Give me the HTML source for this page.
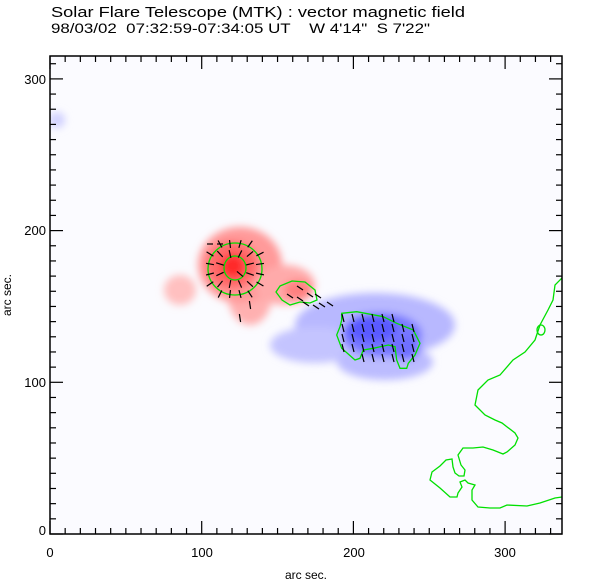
<!DOCTYPE html><html><head><meta charset="utf-8"><style>
body{margin:0;background:#fff;width:612px;height:585px;overflow:hidden}
svg{display:block}
text{font-family:"Liberation Sans",sans-serif;fill:#000}
</style></head><body>
<svg id="s" width="612" height="585" viewBox="0 0 612 585">
<defs>
<filter id="b6" x="-50%" y="-50%" width="200%" height="200%"><feGaussianBlur stdDeviation="4"/></filter>
<clipPath id="c"><rect x="50" y="56" width="512" height="478"/></clipPath>
</defs>
<text x="51" y="17" font-size="14.5" textLength="414" lengthAdjust="spacingAndGlyphs">Solar Flare Telescope (MTK) : vector magnetic field</text>
<text x="51" y="33" font-size="13.5" xml:space="preserve" textLength="379" lengthAdjust="spacingAndGlyphs">98/03/02  07:32:59-07:34:05 UT    W 4'14"  S 7'22"</text>
<g clip-path="url(#c)" id="img">
<rect x="50" y="56" width="512" height="478" fill="#fbfbff"/>
<g filter="url(#b6)">
<ellipse cx="180" cy="290" rx="16" ry="15" fill="#ffc0c0"/>
<ellipse cx="250" cy="295" rx="22" ry="30" fill="#ffb0b0"/>
<ellipse cx="240" cy="265" rx="42" ry="38" fill="#ff9a9a"/>
<ellipse cx="285" cy="285" rx="30" ry="20" fill="#ffaaaa"/>
<ellipse cx="232" cy="265" rx="26" ry="24" fill="#ff6a6a"/>
<ellipse cx="233" cy="266" rx="12" ry="12" fill="#ff2a2a"/>
<ellipse cx="298" cy="290" rx="14" ry="10" fill="#ff8080"/>
<ellipse cx="375" cy="325" rx="80" ry="32" fill="#b8b8ff"/>
<ellipse cx="315" cy="345" rx="45" ry="18" fill="#c4c4ff"/>
<ellipse cx="385" cy="362" rx="48" ry="18" fill="#bcbcff"/>
<ellipse cx="382" cy="335" rx="40" ry="22" fill="#7878ff"/>
<ellipse cx="372" cy="328" rx="25" ry="14" fill="#5a5aff"/>
<ellipse cx="405" cy="348" rx="15" ry="12" fill="#7070ff"/>
<ellipse cx="57" cy="120" rx="8" ry="8" fill="#d0d0ff"/>
</g>
<g fill="none" stroke="#00e000" stroke-width="1.3">
<ellipse cx="235" cy="269" rx="27" ry="26"/>
<ellipse cx="235" cy="268" rx="11" ry="12"/>
<path d="M280,286 L292,281 L305,282 L315,290 L317,300 L310,303 L300,302 L290,305 L282,300 L276,292 Z"/>
<path id="bc" d=""/>
<path d="M562,278 L555,285 L553,300 L548,310 L540,325 L535,340 L525,352 L513,360 L500,375 L488,380 L478,390 L475,405 L485,415 L495,420 L502,423 L515,433 L518,438 L515,445 L507,452 L503,454 L493,450 L483,447 L473,448 L463,448 L458,455 L461,465 L465,470 L464,476 L459,476 L455,473 L453,467 L452,459 L446,460 L440,466 L432,472 L430,480 L440,488 L450,497 L457,497 L458,493 L462,487 L460,482 L465,480 L468,483 L475,485 L472,490 L472,500 L478,507 L490,508 L500,508 L507,505 L527,506 L540,503 L555,498 L562,497"/>
<ellipse cx="541" cy="330" rx="4" ry="5"/>
</g>
<g id="arr" stroke="#000" stroke-width="1.2"></g>
</g>
<rect x="50" y="56" width="512" height="478" fill="none" stroke="#000" stroke-width="1.5"/>
<g id="ticks" stroke="#000" stroke-width="1.2"></g>
<g font-size="13" text-anchor="middle">
<text x="50" y="557">0</text><text x="202" y="557">100</text><text x="354" y="557">200</text><text x="505" y="557">300</text>
</g>
<g font-size="13" text-anchor="end">
<text x="46" y="535">0</text><text x="46" y="387">100</text><text x="46" y="235">200</text><text x="46" y="84">300</text>
</g>
<text x="306" y="579" font-size="12" text-anchor="middle">arc sec.</text>
<text transform="translate(11,295) rotate(-90)" font-size="12" text-anchor="middle">arc sec.</text>
</svg>
<script>
var NS="http://www.w3.org/2000/svg";
function ln(g,x1,y1,x2,y2){var l=document.createElementNS(NS,"line");l.setAttribute("x1",x1);l.setAttribute("y1",y1);l.setAttribute("x2",x2);l.setAttribute("y2",y2);g.appendChild(l);}
var t=document.getElementById("ticks");
for(var i=0;i<=33;i++){var x=50+i*15.17,L=(i%10==0)?13:6;ln(t,x,534,x,534-L);ln(t,x,56,x,56+L);}
for(var i=0;i<=31;i++){var y=534-i*15.17,L=(i%10==0)?13:6;if(y<56)break;ln(t,50,y,50+L,y);ln(t,562,y,562-L,y);}
var bp=[[575,280],[620,275],[700,290],[740,310],[790,330],[810,370],[795,405],[775,430],[770,445],[750,445],[740,420],[735,380],[715,375],[670,385],[640,390],[630,415],[615,420],[575,385],[560,345],[570,320],[575,300]];
document.getElementById("bc").setAttribute("d","M"+bp.map(function(p){return (p[0]/3+150).toFixed(1)+","+(p[1]/3+220).toFixed(1)}).join(" L")+" Z");
var a=document.getElementById("arr");
for(var gx=210;gx<=262;gx+=10)for(var gy=244;gy<=296;gy+=10){var dx=gx-233,dy=gy-268,r=Math.sqrt(dx*dx+dy*dy);if(r<9||r>32)continue;var ux=dx/r,uy=dy/r;ln(a,gx-ux*4,gy-uy*4,gx+ux*4,gy+uy*4);}
[[210,244,1,0],[220,244,1,0],[240,318,0.2,1],[250,305,0.2,1]].forEach(function(p){ln(a,p[0]-p[2]*3,p[1]-p[3]*4,p[0]+p[2]*3,p[1]+p[3]*4)});
[[300,288],[310,295],[290,296],[300,299],[318,296],[306,304],[322,305],[330,304],[316,307]].forEach(function(p){ln(a,p[0]-3,p[1]-2,p[0]+3,p[1]+2)});
for(var gx=343;gx<=418;gx+=10)for(var gy=318;gy<=366;gy+=10){if(gx>395&&gy<322)continue;if(gx<358&&gy>355)continue;if(gx>362&&gx<385&&gy>358)continue;ln(a,gx-1,gy-4,gx+1,gy+4);}
</script>
</body></html>
